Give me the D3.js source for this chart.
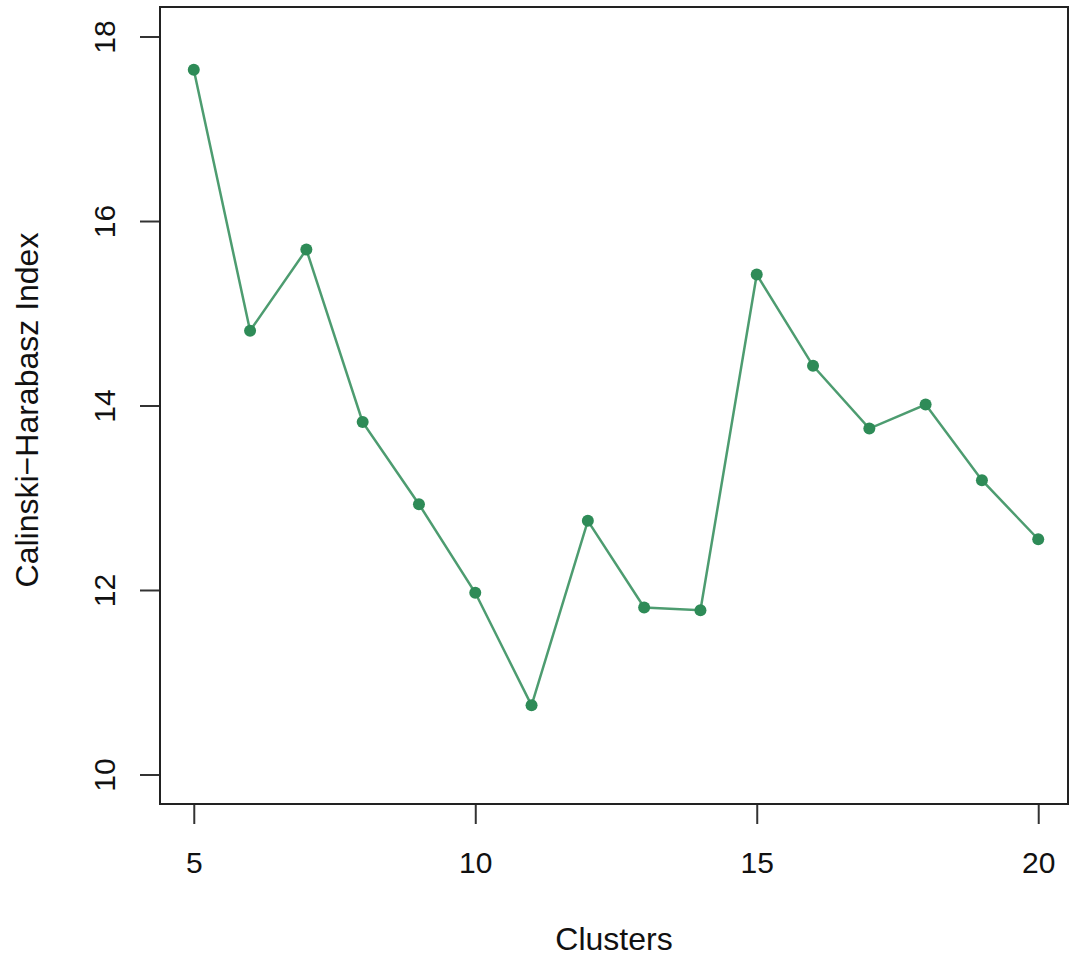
<!DOCTYPE html>
<html>
  <head>
    <meta charset="utf-8">
    <title>Calinski-Harabasz Index</title>
    <script src="https://d3js.org/d3.v7.min.js"></script>
    <style>
      body { margin: 0; background: #fff; }
      text { font-family: "Liberation Sans", Arial, sans-serif; fill: #111; }
    </style>
  </head>
  <body>
    <svg width="1069" height="962"></svg>

    <script type="text/javascript">
      // data
      var clusters = [5, 6, 7, 8, 9, 10, 11, 12, 13, 14, 15, 16, 17, 18, 19, 20];
      var chIndex = [17.64, 14.81, 15.69, 13.82, 12.93, 11.97, 10.75, 12.75,
                     11.81, 11.78, 15.42, 14.43, 13.75, 14.01, 13.19, 12.55];
      var xTicks = [5, 10, 15, 20];
      var yTicks = [10, 12, 14, 16, 18];
      var xLabel = "Clusters";
      var yLabel = "Calinski\u2212Harabasz Index";

      var margin = {top: 7, right: 1, bottom: 158, left: 160};
      var width = 1069 - margin.left - margin.right;
      var height = 962 - margin.top - margin.bottom;

      // R style 4% padding around the axis limits
      var xScale = d3.scaleLinear().domain([4.4, 20.6]).range([0, width + 4]);
      var yScale = d3.scaleLinear().domain([9.68, 18.32]).range([height, 0]);

      var svg = d3.select("svg")
        .append("g")
        .attr("transform", "translate(" + margin.left + "," + margin.top + ")");

      var green = "#2e8b57";

      // x axis
      var xAxisGroup = svg.append("g")
        .attr("class", "xAxis")
        .attr("transform", "translate(0," + height + ")")
        .call(d3.axisBottom(xScale).tickValues(xTicks).tickSize(20).tickPadding(28)
          .tickFormat(d3.format("d")));
      xAxisGroup.select(".domain").remove();
      xAxisGroup.selectAll("line").attr("stroke", "#333").attr("stroke-width", 2);
      xAxisGroup.selectAll("text").style("font-size", "30px").attr("fill", "#111");

      // y axis, labels rotated like R's default las=0
      var yAxisGroup = svg.append("g")
        .attr("class", "yAxis")
        .call(d3.axisLeft(yScale).tickValues(yTicks).tickSize(20));
      yAxisGroup.select(".domain").remove();
      yAxisGroup.selectAll("line").attr("stroke", "#333").attr("stroke-width", 2);
      yAxisGroup.selectAll("text")
        .style("font-size", "30px")
        .attr("fill", "#111")
        .attr("transform", "rotate(-90)")
        .attr("x", 0)
        .attr("y", -45)
        .attr("dy", 0)
        .attr("text-anchor", "middle");

      // plot frame
      svg.append("rect")
        .attr("x", 0)
        .attr("y", 0)
        .attr("width", width)
        .attr("height", height)
        .attr("fill", "none")
        .attr("stroke", "#222")
        .attr("stroke-width", 2);

      var dataset = clusters.map(function(c, i) { return [c, chIndex[i]]; });

      var line = d3.line()
        .x(d => xScale(d[0]))
        .y(d => yScale(d[1]));

      svg.append("path")
        .datum(dataset)
        .attr("d", line)
        .attr("fill", "none")
        .attr("stroke", green)
        .attr("stroke-opacity", 0.85)
        .attr("stroke-width", 2.5);

      svg.selectAll("circle")
        .data(dataset)
        .enter()
        .append("circle")
        .attr("cx", d => xScale(d[0]))
        .attr("cy", d => yScale(d[1]))
        .attr("r", 6)
        .attr("fill", green);

      // axis titles
      svg.append("text")
        .attr("x", width / 2)
        .attr("y", 943)
        .attr("text-anchor", "middle")
        .style("font-size", "32px")
        .text(xLabel);

      svg.append("text")
        .attr("transform", "translate(" + (38 - margin.left) + "," + (410 - margin.top) + ") rotate(-90)")
        .attr("text-anchor", "middle")
        .style("font-size", "32px")
        .text(yLabel);
    </script>
  </body>
</html>
